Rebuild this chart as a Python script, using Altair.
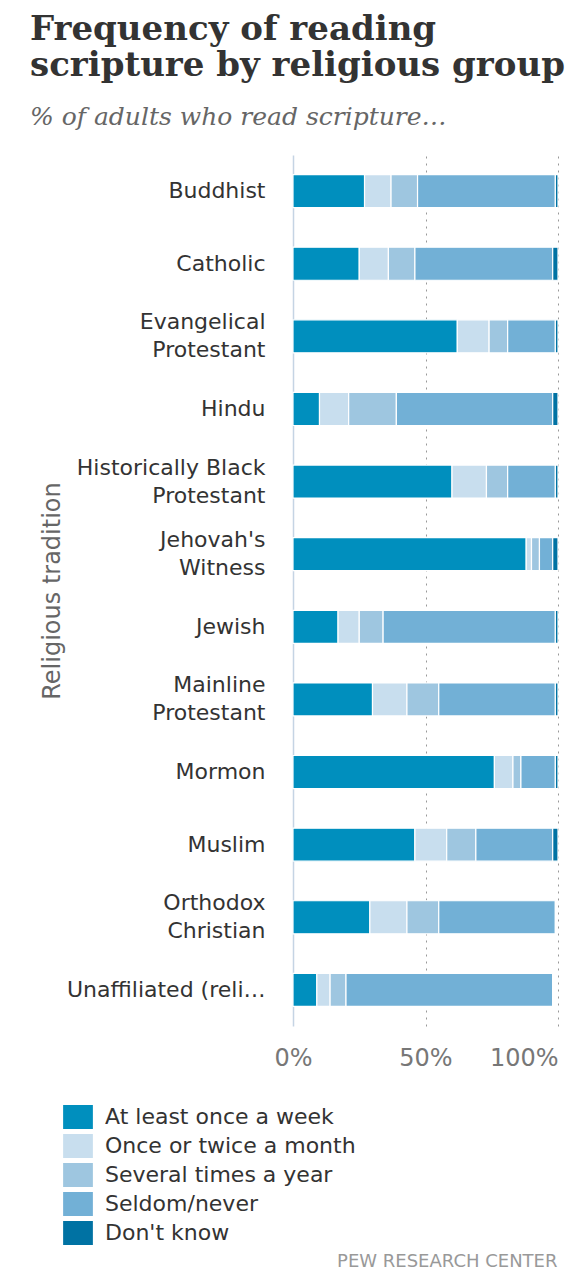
import altair as alt
import pandas as pd

categories = [
    "Buddhist",
    "Catholic",
    "Evangelical\nProtestant",
    "Hindu",
    "Historically Black\nProtestant",
    "Jehovah's\nWitness",
    "Jewish",
    "Mainline\nProtestant",
    "Mormon",
    "Muslim",
    "Orthodox\nChristian",
    'Unaffiliated (religious "nones")',
]
frequencies = [
    "At least once a week",
    "Once or twice a month",
    "Several times a year",
    "Seldom/never",
    "Don't know",
]
week = [27, 25, 62, 10, 60, 88, 17, 30, 76, 46, 29, 9]
month = [10, 11, 12, 11, 13, 2, 8, 13, 7, 12, 14, 5]
year = [10, 10, 7, 18, 8, 3, 9, 12, 3, 11, 12, 6]
seldom = [52, 52, 18, 59, 18, 5, 65, 44, 13, 29, 44, 78]
dont_know = [1, 2, 1, 2, 1, 2, 1, 1, 1, 2, 0, 0]
colors = ["#008fbe", "#c8deee", "#9ec6e0", "#72b0d6", "#0072a3"]

series = [week, month, year, seldom, dont_know]
rows = []
for k, (freq, vals) in enumerate(zip(frequencies, series)):
    for cat, v in zip(categories, vals):
        rows.append({"group": cat, "frequency": freq, "value": v, "idx": k})
df = pd.DataFrame(rows)

FONT = "DejaVu Sans"
PLOT_W = 265
PLOT_H = 871

chart = (
    alt.Chart(df)
    .mark_bar(stroke="white", strokeWidth=1.2)
    .encode(
        x=alt.X(
            "value:Q",
            stack="zero",
            scale=alt.Scale(domain=[0, 100], nice=False),
            axis=alt.Axis(
                values=[0, 50, 100],
                labelExpr="datum.value + '%'",
                labelFlush=False,
                labelAlign=alt.condition(
                    "datum.value == 100", alt.value("right"), alt.value("center")
                ),
                title="PEW RESEARCH CENTER",
                titleX=PLOT_W - 1,
                titleY=240,
                titleAlign="right",
                titleBaseline="alphabetic",
                titleFont=FONT,
                titleFontSize=18,
                titleFontWeight="normal",
                titleColor="#999999",
                grid=True,
                gridDash=[2, 5],
                gridColor="#999999",
                gridOpacity=alt.condition("datum.value == 0", alt.value(0), alt.value(1)),
                domain=False,
                ticks=False,
                labelFontSize=24,
                labelColor="#777777",
                labelFont=FONT,
                labelPadding=20,
            ),
        ),
        y=alt.Y(
            "group:N",
            sort=categories,
            scale=alt.Scale(paddingInner=0.545, paddingOuter=0.27),
            axis=alt.Axis(
                title="Religious tradition",
                titleFontSize=24,
                titleFontWeight="normal",
                titleColor="#666666",
                titleFont=FONT,
                titleX=-241,
                titleY=PLOT_H / 2,
                titleAngle=270,
                titleAlign="center",
                titleBaseline="middle",
                labelExpr="split(datum.label, '\\n')",
                labelOffset=alt.condition(
                    "indexof(datum.label, '\\n') >= 0", alt.value(-14), alt.value(0)
                ),
                labelFontSize=22,
                labelColor="#333333",
                labelFont=FONT,
                labelLimit=205,
                labelLineHeight=28,
                labelPadding=28,
                ticks=False,
                domain=True,
                domainColor="#c5d4e4",
                domainWidth=1.5,
            ),
        ),
        color=alt.Color(
            "frequency:N",
            sort=frequencies,
            scale=alt.Scale(domain=frequencies, range=colors),
            legend=alt.Legend(
                title=None,
                orient="none",
                legendX=-227,
                legendY=950,
                padding=0,
                direction="vertical",
                columns=1,
                symbolType="M-1.24,-1L1.24,-1L1.24,1L-1.24,1Z",
                symbolSize=576,
                symbolStrokeWidth=0,
                symbolOpacity=1,
                labelFontSize=22,
                labelFont=FONT,
                labelColor="#333333",
                labelOffset=15,
                labelLimit=400,
                rowPadding=5,
            ),
        ),
        order=alt.Order("idx:Q"),
    )
    .properties(
        width=PLOT_W,
        height=PLOT_H,
        autosize=alt.AutoSizeParams(type="none"),
        padding={"left": 285, "top": 147, "right": 21, "bottom": 245},
        title=alt.TitleParams(
            text=["Frequency of reading", "scripture by religious group"],
            subtitle="% of adults who read scripture…",
            anchor="start",
            frame="group",
            font="DejaVu Serif",
            fontSize=34,
            fontWeight="bold",
            color="#333333",
            lineHeight=36,
            subtitleFont="DejaVu Serif",
            subtitleFontStyle="italic",
            subtitleFontSize=25,
            subtitleColor="#666666",
            subtitlePadding=22,
            offset=25,
            dx=-263,
        ),
    )
    .configure_view(stroke=None)
)

chart.save("out.html", embed_options={"renderer": "svg", "actions": False})
